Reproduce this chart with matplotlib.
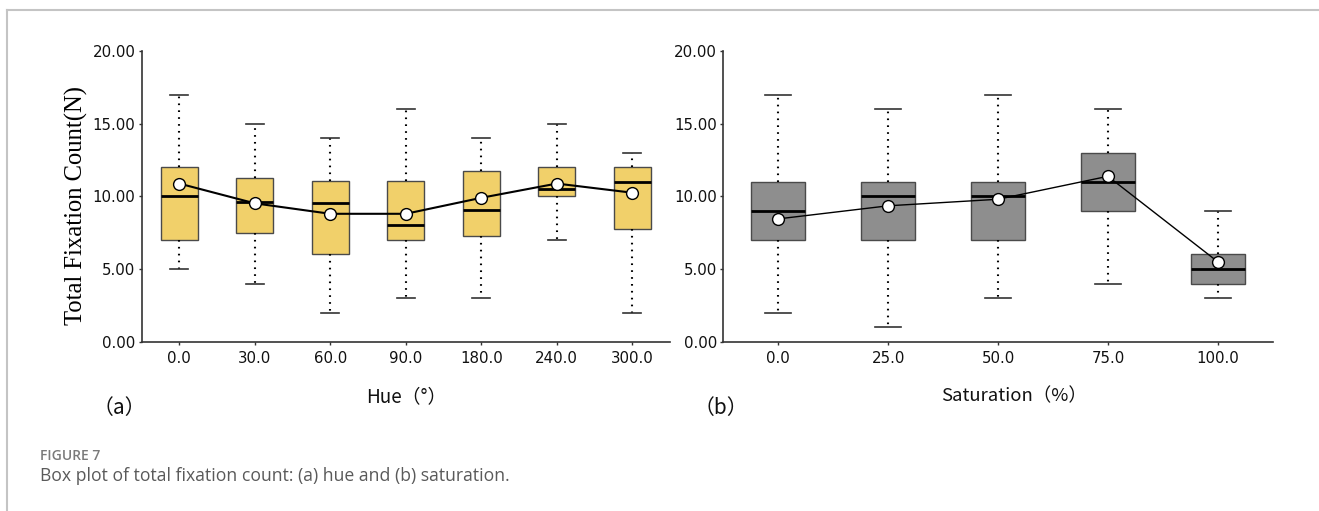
import numpy as np
import matplotlib
matplotlib.use('Agg')
import matplotlib.pyplot as plt
from matplotlib.lines import Line2D
from matplotlib.ticker import FormatStrFormatter

# (a) hue
hue_labels = ['0.0', '30.0', '60.0', '90.0', '180.0', '240.0', '300.0']
hue_whislo = [5, 4, 2, 3, 3, 7, 2]
hue_q1 = [7, 7.5, 6, 7, 7.25, 10.05, 7.75]
hue_med = [10, 9.6, 9.55, 8, 9.05, 10.5, 11]
hue_q3 = [12, 11.25, 11.05, 11.05, 11.75, 12, 12]
hue_whishi = [17, 15, 14, 16, 14, 15, 13]
hue_mean = [10.88, 9.52, 8.8, 8.8, 9.9, 10.88, 10.25]

# (b) saturation
sat_labels = ['0.0', '25.0', '50.0', '75.0', '100.0']
sat_whislo = [2, 1, 3, 4, 3]
sat_q1 = [7, 7, 7, 9, 4]
sat_med = [9, 10, 10, 11, 5]
sat_q3 = [11, 11, 11, 13, 6]
sat_whishi = [17, 16, 17, 16, 9]
sat_mean = [8.45, 9.35, 9.8, 11.38, 5.5]

yticks = [0, 5, 10, 15, 20]


def make_stats(lo, q1, med, q3, hi):
    return [{'whislo': a, 'q1': b, 'med': c, 'q3': d, 'whishi': e, 'fliers': []}
            for a, b, c, d, e in zip(lo, q1, med, q3, hi)]


def draw_panel(ax, stats, means, labels, fill, mean_lw):
    pos = np.arange(len(stats))
    ax.bxp(stats, positions=pos, widths=0.49, patch_artist=True, showfliers=False,
           boxprops=dict(facecolor=fill, edgecolor='#4a4a4a', linewidth=1.0),
           medianprops=dict(color='black', linewidth=2.0),
           whiskerprops=dict(color='black', linewidth=1.5, linestyle=(0, (0.8, 2.5))),
           capprops=dict(color='#333333', linewidth=1.2),
           capwidths=0.24)
    ax.plot(pos, means, color='black', lw=mean_lw, marker='o', ms=8.5,
            mfc='white', mec='black', mew=1.0, zorder=5)

    ax.set_xlim(-0.5, len(stats) - 0.5)
    ax.set_ylim(0, 20)
    ax.set_yticks(yticks)
    ax.yaxis.set_major_formatter(FormatStrFormatter('%.2f'))
    ax.set_xticks(pos, labels=labels)
    for side in ['top', 'right']:
        ax.spines[side].set_visible(False)
    for side in ['left', 'bottom']:
        ax.spines[side].set_color('#333333')
        ax.spines[side].set_linewidth(1.2)
    ax.tick_params(axis='both', direction='out', length=2.5, width=1.0, color='#333333',
                   labelsize=10.8, labelcolor='#111111', pad=2)
    ax.tick_params(axis='x', pad=4)


fig = plt.figure(figsize=(13.19, 5.11), dpi=100)
ax1 = fig.add_axes([0.1073, 0.3313, 0.4007, 0.5689])
ax2 = fig.add_axes([0.5484, 0.3313, 0.4165, 0.5689])

draw_panel(ax1, make_stats(hue_whislo, hue_q1, hue_med, hue_q3, hue_whishi),
           hue_mean, hue_labels, '#F1D06A', 1.5)
draw_panel(ax2, make_stats(sat_whislo, sat_q1, sat_med, sat_q3, sat_whishi),
           sat_mean, sat_labels, '#8E8E8E', 1.0)

ax1.set_ylabel('Total Fixation Count(N)', family='Liberation Serif', fontsize=17.7)
ax1.yaxis.set_label_coords(-0.102, 0.47)

cjk = ['Noto Sans CJK SC', 'DejaVu Sans']
fig.text(406.8 / 1319, 1 - 396.5 / 511, 'Hue（°）', family=cjk, fontsize=13.6,
         ha='center', va='center', color='#111111')
fig.text(1013.8 / 1319, 1 - 396 / 511, 'Saturation（%）', family=cjk, fontsize=13.3,
         ha='center', va='center', color='#111111')
fig.text(119 / 1319, 1 - 408 / 511, '（a）', family=cjk, fontsize=15,
         ha='center', va='center', color='#111111')
fig.text(721 / 1319, 1 - 408 / 511, '（b）', family=cjk, fontsize=15,
         ha='center', va='center', color='#111111')

# caption
fig.text(40 / 1319, 1 - 456 / 511, 'FIGURE 7', family='Open Sans', fontsize=10,
         fontweight='semibold', color='#7a7a7a', ha='left', va='center')
fig.text(40 / 1319, 1 - 476 / 511, 'Box plot of total fixation count: (a) hue and (b) saturation.',
         family='Open Sans', fontsize=12.7, color='#5a5a5a', ha='left', va='center')

# card border (top and left)
fig.add_artist(Line2D([6.5 / 1319, 1], [1 - 10.5 / 511, 1 - 10.5 / 511],
                      transform=fig.transFigure, color='#c4c4c4', lw=1.5))
fig.add_artist(Line2D([6.5 / 1319, 6.5 / 1319], [0, 1 - 10.5 / 511],
                      transform=fig.transFigure, color='#c4c4c4', lw=1.5))

fig.savefig('out.png', dpi=100)
